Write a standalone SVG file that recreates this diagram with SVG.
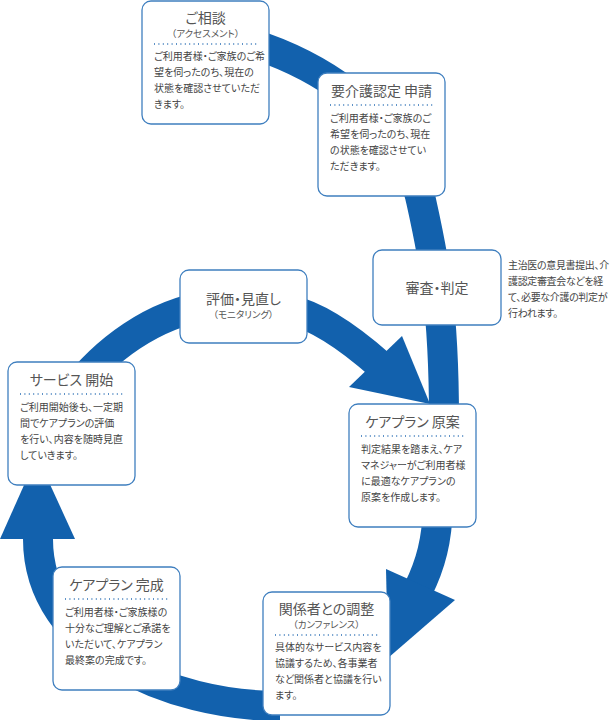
<svg xmlns="http://www.w3.org/2000/svg" width="610" height="720" viewBox="0 0 610 720">
<style>
.box{fill:#fff;stroke:#3f7fbf;stroke-width:1.3}
.band{fill:none;stroke:#1261ad;stroke-width:30}
.head{fill:#1261ad}
text{font-family:"Noto Sans CJK JP","Noto Sans",sans-serif;font-feature-settings:"palt"}
.t{font-size:14px;fill:#555;text-anchor:middle}
.s{font-size:9.5px;fill:#555;text-anchor:middle}
.b{font-size:10px;fill:#444}
.n{letter-spacing:-0.35px}
.dot{stroke:#2b6fb5;stroke-width:1.3;stroke-dasharray:1 3.4;fill:none}
</style>
<rect width="610" height="720" fill="#fff"/>
<g id="connectors">
<path class="band" d="M240,40 C310,60 400,110 420,196 C432,250 444,300 444,420"/>
<path class="band" d="M438,500 C438,540 430,566 418,590"/>
<polygon class="head" points="386,569 455,600 388,658"/>
<path class="band" d="M280,706 C170,706 38,650 38,539 L38,528"/>
<polygon class="head" points="0,539 75,539 37,456"/>
<path class="band" d="M70,395 C105,349 153,314 210,305"/>
<path class="band" d="M290,310 C322,317 355,343 380,365"/>
<polygon class="head" points="402,336 349,387 430,404"/>
</g>
<g id="n1" transform="translate(142,1)">
<rect class="box" width="127" height="123" rx="9"/>
<text class="t" x="63.5" y="21.5">ご相談</text>
<text class="s" x="63.5" y="35.5">（アクセスメント）</text>
<line class="dot" x1="12" y1="43" x2="116" y2="43"/>
<text class="b" x="12" y="59">ご利用者様・ご家族のご希</text>
<text class="b" x="12" y="75">望を伺ったのち、現在の</text>
<text class="b" x="12" y="91">状態を確認させていただ</text>
<text class="b" x="12" y="107">きます。</text>
</g>
<g id="n2" transform="translate(318,73)">
<rect class="box" width="127" height="123" rx="9"/>
<text class="t" x="63.5" y="22.8">要介護認定 申請</text>
<line class="dot" x1="12" y1="32" x2="116" y2="32"/>
<text class="b" x="12" y="48.5">ご利用者様・ご家族のご</text>
<text class="b" x="12" y="64.5">希望を伺ったのち、現在</text>
<text class="b" x="12" y="80.5">の状態を確認させてい</text>
<text class="b" x="12" y="96.5">ただきます。</text>
</g>
<g id="n3" transform="translate(373,250)">
<rect class="box" width="128" height="75" rx="9"/>
<text class="t" x="64" y="42.8">審査・判定</text>
</g>
<g id="n3note">
<text class="b n" x="508" y="268.5">主治医の意見書提出、介</text>
<text class="b n" x="508" y="284.5">護認定審査会などを経</text>
<text class="b n" x="508" y="300.5">て、必要な介護の判定が</text>
<text class="b n" x="508" y="316.5">行われます。</text>
</g>
<g id="n4" transform="translate(349,404)">
<rect class="box" width="127" height="123" rx="9"/>
<text class="t" x="63.5" y="22.8">ケアプラン 原案</text>
<line class="dot" x1="12" y1="32" x2="116" y2="32"/>
<text class="b" x="12" y="48.5">判定結果を踏まえ、ケア</text>
<text class="b" x="12" y="64.5">マネジャーがご利用者様</text>
<text class="b" x="12" y="80.5">に最適なケアプランの</text>
<text class="b" x="12" y="96.5">原案を作成します。</text>
</g>
<g id="n5" transform="translate(263,592)">
<rect class="box" width="127" height="123" rx="9"/>
<text class="t" x="63.5" y="21.5">関係者との調整</text>
<text class="s" x="63.5" y="35.5">（カンファレンス）</text>
<line class="dot" x1="12" y1="43" x2="116" y2="43"/>
<text class="b" x="12" y="59">具体的なサービス内容を</text>
<text class="b" x="12" y="75">協議するため、各事業者</text>
<text class="b" x="12" y="91">など関係者と協議を行い</text>
<text class="b" x="12" y="107">ます。</text>
</g>
<g id="n6" transform="translate(53,567)">
<rect class="box" width="127" height="123" rx="9"/>
<text class="t" x="63.5" y="22.8">ケアプラン 完成</text>
<line class="dot" x1="12" y1="32" x2="116" y2="32"/>
<text class="b" x="12" y="48.5">ご利用者様・ご家族様の</text>
<text class="b" x="12" y="64.5">十分なご理解とご承諾を</text>
<text class="b" x="12" y="80.5">いただいて、ケアプラン</text>
<text class="b" x="12" y="96.5">最終案の完成です。</text>
</g>
<g id="n7" transform="translate(8,362)">
<rect class="box" width="127" height="123" rx="9"/>
<text class="t" x="63.5" y="22.8">サービス 開始</text>
<line class="dot" x1="12" y1="32" x2="116" y2="32"/>
<text class="b" x="12" y="48.5">ご利用開始後も、一定期</text>
<text class="b" x="12" y="64.5">間でケアプランの評価</text>
<text class="b" x="12" y="80.5">を行い、内容を随時見直</text>
<text class="b" x="12" y="96.5">していきます。</text>
</g>
<g id="n8" transform="translate(180,270)">
<rect class="box" width="127" height="73" rx="9"/>
<text class="t" x="63.5" y="34">評価・見直し</text>
<text class="s" x="63.5" y="48">（モニタリング）</text>
</g>
</svg>
